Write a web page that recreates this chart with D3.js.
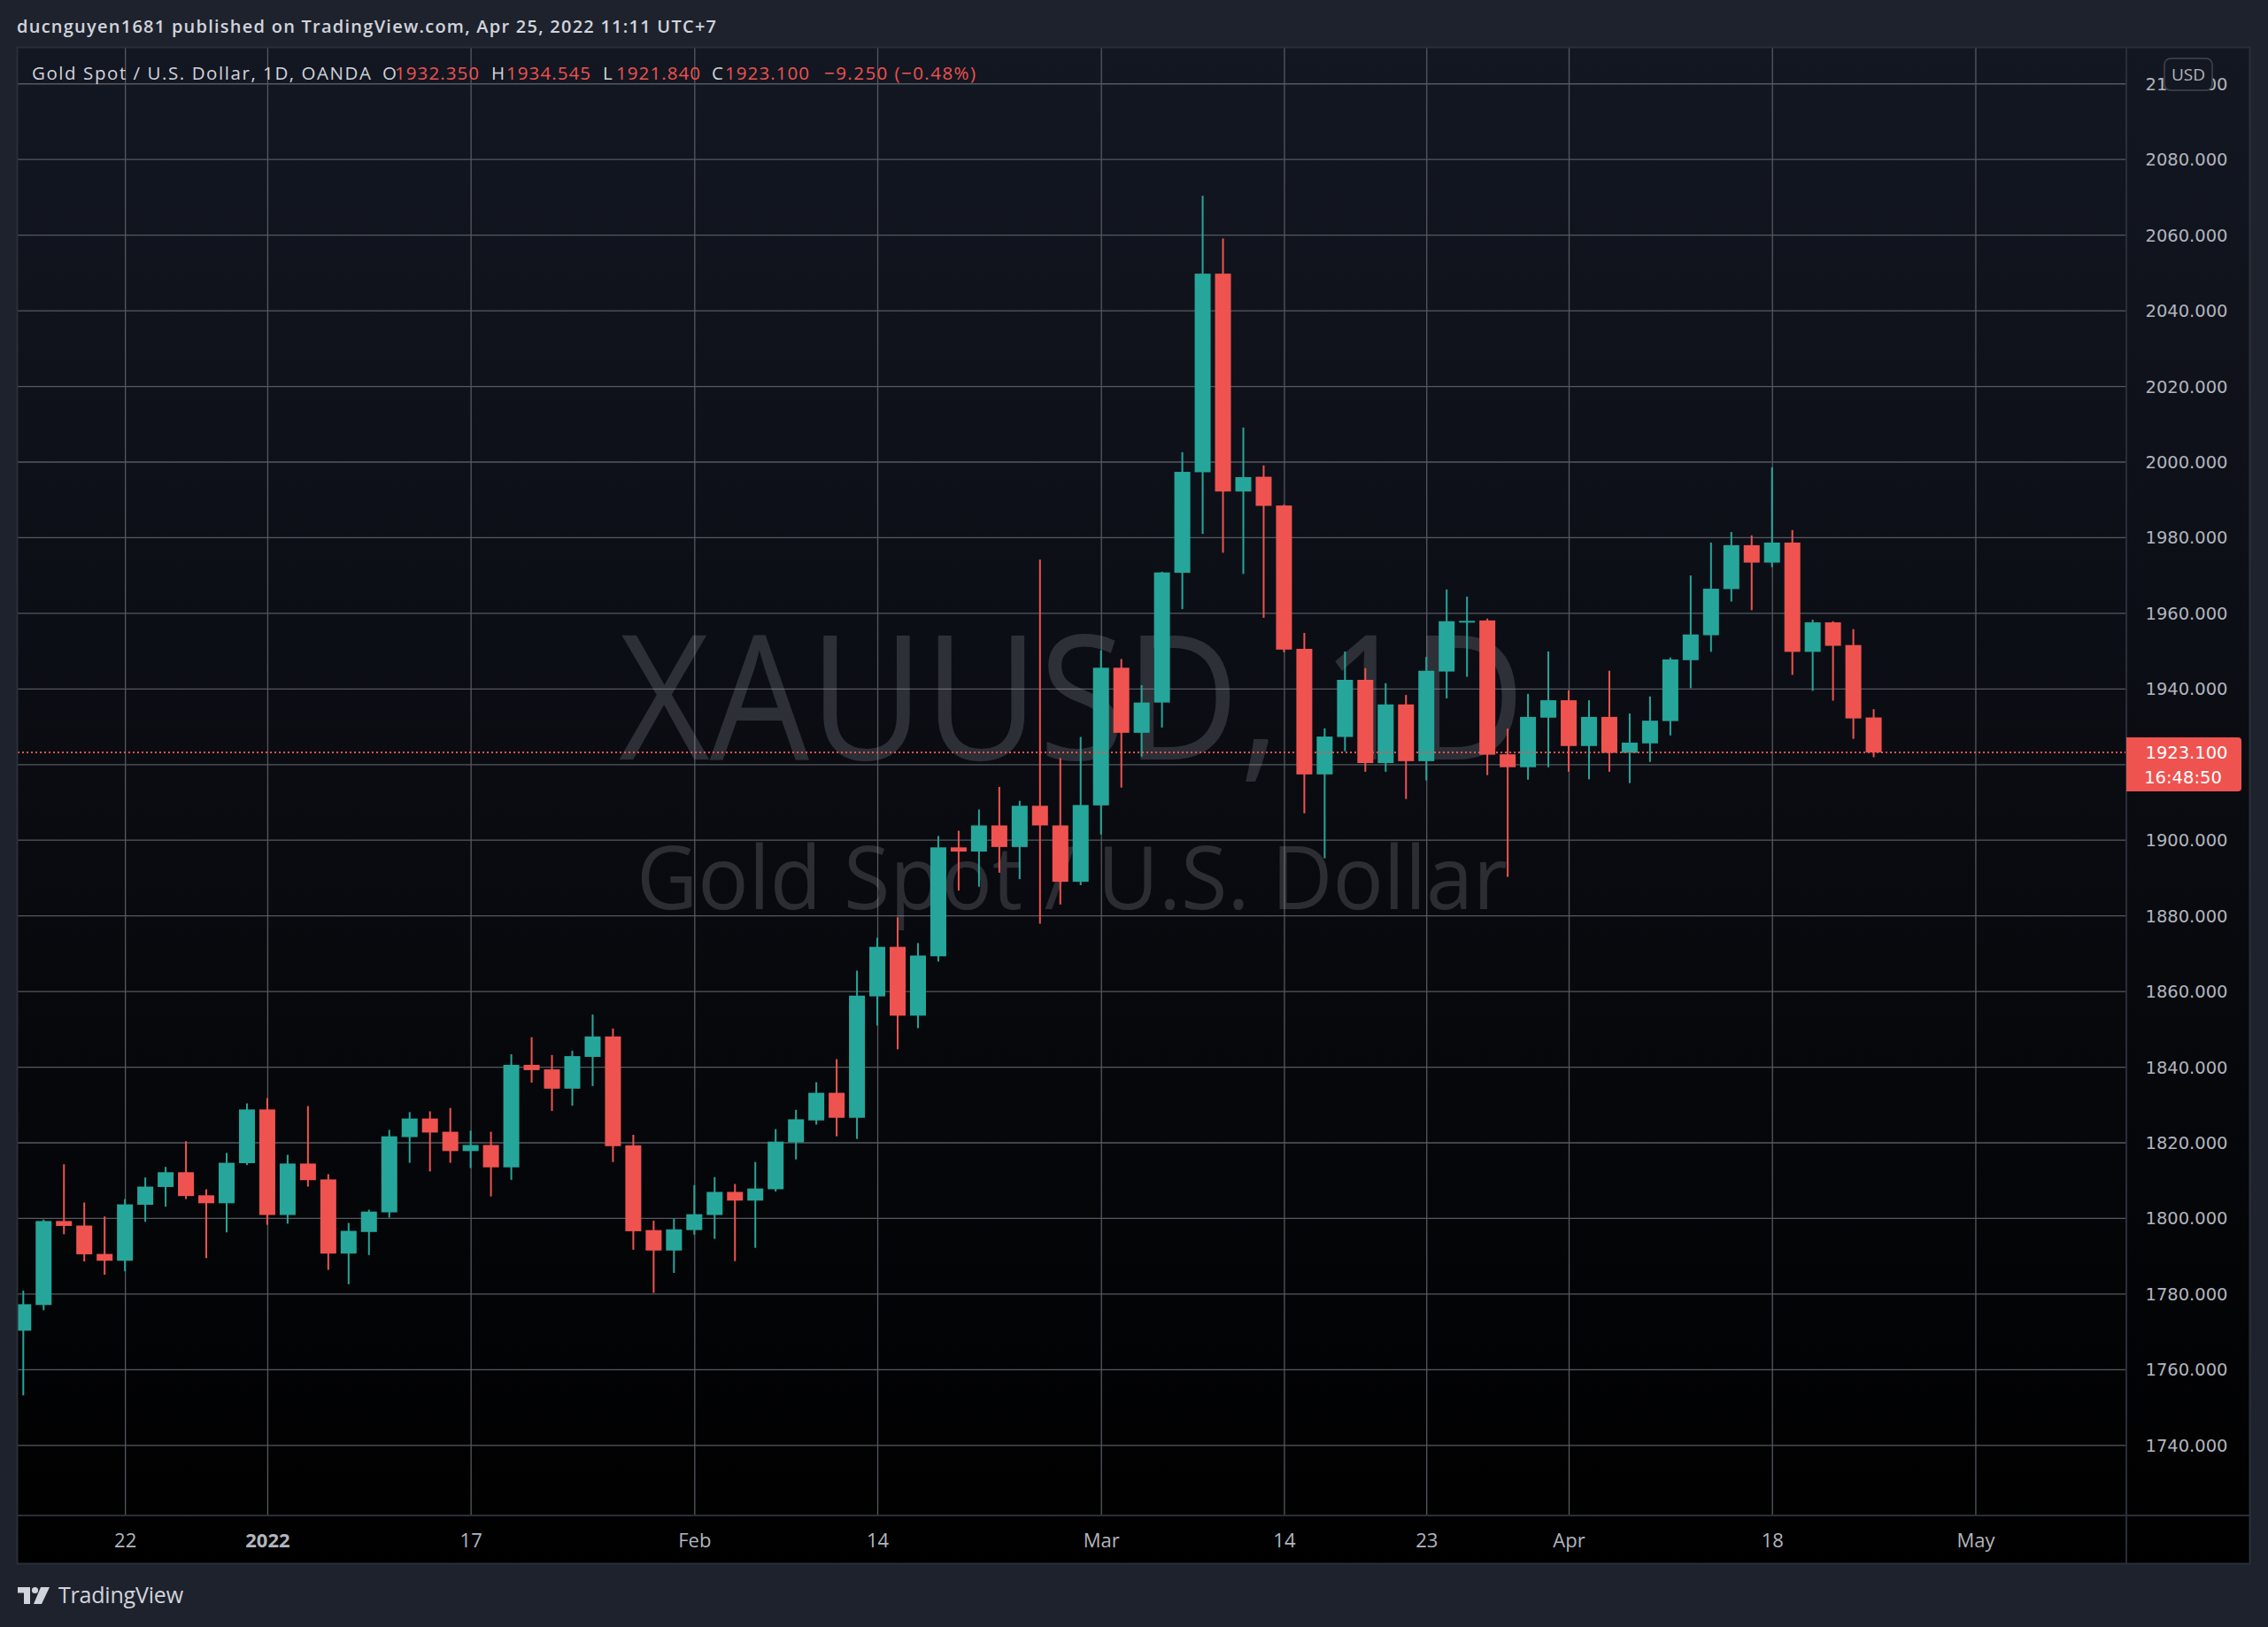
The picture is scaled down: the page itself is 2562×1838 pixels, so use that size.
<!DOCTYPE html>
<html>
<head>
<meta charset="utf-8">
<script src="https://cdn.jsdelivr.net/npm/d3@7"></script>
<style>
html,body{margin:0;padding:0;background:#1e222d;overflow:hidden;}
svg{display:block;}
</style>
</head>
<body>
<svg id="chart" width="2562" height="1838"></svg>
<script>
// ---------------- DATA ----------------
const dates = [
"2021-12-15","2021-12-16","2021-12-17","2021-12-20","2021-12-21","2021-12-22","2021-12-23","2021-12-27","2021-12-28","2021-12-29","2021-12-30","2021-12-31",
"2022-01-03","2022-01-04","2022-01-05","2022-01-06","2022-01-07","2022-01-10","2022-01-11","2022-01-12","2022-01-13","2022-01-14","2022-01-17","2022-01-18","2022-01-19","2022-01-20","2022-01-21","2022-01-24","2022-01-25","2022-01-26","2022-01-27","2022-01-28","2022-01-31",
"2022-02-01","2022-02-02","2022-02-03","2022-02-04","2022-02-07","2022-02-08","2022-02-09","2022-02-10","2022-02-11","2022-02-14","2022-02-15","2022-02-16","2022-02-17","2022-02-18","2022-02-21","2022-02-22","2022-02-23","2022-02-24","2022-02-25","2022-02-28",
"2022-03-01","2022-03-02","2022-03-03","2022-03-04","2022-03-07","2022-03-08","2022-03-09","2022-03-10","2022-03-11","2022-03-14","2022-03-15","2022-03-16","2022-03-17","2022-03-18","2022-03-21","2022-03-22","2022-03-23","2022-03-24","2022-03-25","2022-03-28","2022-03-29","2022-03-30","2022-03-31",
"2022-04-01","2022-04-04","2022-04-05","2022-04-06","2022-04-07","2022-04-08","2022-04-11","2022-04-12","2022-04-13","2022-04-14","2022-04-18","2022-04-19","2022-04-20","2022-04-21","2022-04-22","2022-04-25"
];
const opens = [
1770.2,1777.0,1799.2,1798.0,1790.5,1788.7,1803.5,1808.2,1812.1,1806.0,1803.9,1814.5,
1828.7,1800.8,1814.4,1810.2,1790.6,1796.3,1801.5,1821.4,1826.3,1822.8,1817.7,1819.3,1813.4,1840.5,1839.3,1834.2,1842.6,1848.0,1819.2,1796.8,1791.4,
1796.8,1800.8,1806.9,1804.6,1807.6,1820.0,1825.8,1833.1,1826.5,1858.6,1871.7,1853.5,1869.2,1898.0,1896.9,1903.8,1898.1,1909.0,1903.8,1888.9,
1909.1,1945.5,1928.3,1936.3,1970.6,1997.2,2049.7,1992.1,1996.0,1988.4,1950.5,1917.3,1927.2,1942.3,1920.3,1935.8,1920.8,1944.5,1957.7,1958.0,1922.6,1919.2,1932.3,
1936.9,1924.8,1932.5,1923.0,1925.5,1931.4,1947.5,1954.1,1966.3,1977.9,1973.3,1978.6,1949.7,1957.5,1951.5,1932.35
];
const highs = [
1780.8,1799.6,1814.2,1804.1,1800.4,1805.0,1810.7,1813.5,1820.3,1807.6,1817.2,1830.3,
1831.7,1816.7,1829.6,1811.6,1798.7,1802.2,1823.3,1828.0,1828.2,1829.1,1823.1,1822.8,1843.3,1847.8,1843.1,1844.2,1853.8,1850.1,1822.0,1799.3,1799.8,
1808.7,1810.8,1809.0,1814.8,1823.5,1828.6,1835.9,1842.0,1865.4,1874.1,1879.5,1872.7,1901.0,1902.4,1908.0,1914.0,1910.3,1974.1,1921.6,1927.2,
1950.1,1947.8,1940.9,1970.9,2002.5,2070.3,2059.0,2009.0,1999.0,1988.6,1954.7,1929.5,1949.8,1945.4,1941.4,1938.3,1948.4,1966.2,1964.3,1958.5,1929.4,1938.6,1949.8,
1939.5,1936.9,1944.7,1933.4,1937.9,1948.2,1969.9,1978.6,1981.4,1980.5,1998.5,1981.9,1958.2,1957.8,1955.7,1934.545
];
const lows = [
1753.1,1775.6,1795.7,1788.5,1785.0,1785.9,1799.0,1803.0,1805.0,1789.4,1796.2,1814.0,
1798.2,1798.5,1808.3,1786.3,1782.5,1790.2,1800.1,1814.6,1812.3,1814.6,1813.2,1805.7,1810.1,1835.8,1828.3,1829.7,1834.9,1814.8,1791.6,1780.2,1785.5,
1795.6,1794.5,1788.6,1792.1,1807.0,1815.5,1824.7,1821.6,1820.9,1850.9,1844.6,1850.2,1867.8,1886.6,1887.6,1891.3,1889.6,1877.8,1882.9,1888.0,
1901.4,1913.8,1922.0,1929.7,1961.0,1980.9,1975.9,1970.3,1958.7,1949.6,1907.0,1895.1,1923.4,1918.0,1918.0,1910.8,1915.7,1937.4,1943.1,1917.1,1890.2,1915.9,1919.2,
1918.0,1916.0,1918.0,1915.0,1920.6,1927.6,1940.1,1949.7,1963.0,1960.7,1972.1,1943.6,1939.4,1936.8,1926.7,1921.84
];
const closes = [
1777.2,1799.2,1797.9,1790.4,1788.7,1803.6,1808.3,1812.1,1805.8,1803.9,1814.6,1828.7,
1800.8,1814.4,1810.0,1790.6,1796.6,1801.7,1821.6,1826.3,1822.6,1817.7,1819.3,1813.4,1840.5,1839.1,1834.2,1842.8,1848.0,1819.0,1796.5,1791.4,1797.0,
1801.0,1806.9,1804.6,1807.8,1820.2,1826.1,1833.1,1826.5,1858.8,1871.7,1853.5,1869.4,1898.0,1896.9,1903.8,1898.1,1909.0,1903.8,1888.9,1909.2,
1945.5,1928.3,1936.3,1970.7,1997.3,2049.7,1992.1,1995.9,1988.3,1950.3,1917.3,1927.3,1942.3,1920.3,1935.8,1920.8,1944.7,1957.8,1957.9,1922.5,1919.2,1932.5,1936.9,
1924.8,1932.5,1923.0,1925.7,1931.5,1947.7,1954.3,1966.4,1977.9,1973.3,1978.6,1949.7,1957.5,1951.3,1932.1,1923.1
];
// empty future trading days on the time scale
const futureDates = ["2022-04-26","2022-04-27","2022-04-28","2022-04-29","2022-05-02","2022-05-03","2022-05-04","2022-05-05","2022-05-06","2022-05-09","2022-05-10","2022-05-11"];
const timeTickDates  = ["2021-12-22","2022-01-03","2022-01-17","2022-02-01","2022-02-14","2022-03-01","2022-03-14","2022-03-23","2022-04-01","2022-04-18","2022-05-02"];
const timeTickLabels = ["22","2022","17","Feb","14","Mar","14","23","Apr","18","May"];
const boldTickLabels = ["2022"];
const priceTicks = [1740,1760,1780,1800,1820,1840,1860,1880,1900,1920,1940,1960,1980,2000,2020,2040,2060,2080,2100];
const lastPrice = 1923.100;
const countdown = "16:48:50";
const headerText = "ducnguyen1681 published on TradingView.com, Apr 25, 2022 11:11 UTC+7";
const symbolTitle = "Gold Spot / U.S. Dollar, 1D, OANDA";
const legendKeys = ["O","H","L","C"];
const legendVals = ["1932.350","1934.545","1921.840","1923.100"];
const changeText = "\u22129.250 (\u22120.48%)";
const watermarkMain = "XAUUSD, 1D";
const watermarkSub = "Gold Spot / U.S. Dollar";

// ---------------- LAYOUT ----------------
const W = 2562, H = 1838;
const panel = {x0:19, y0:53, x1:2542, y1:1767};
const plot = {x0:20, y0:53, x1:2402, y1:1712};
const UP = "#26a69a", DOWN = "#ef5350";
const GRID = "#55585f";
const TEXT = "#b2b5be";
const LEG = "#d1d4dc";

const svg = d3.select("#chart");
const defs = svg.append("defs");
const grad = defs.append("linearGradient").attr("id","pg")
  .attr("gradientUnits","userSpaceOnUse").attr("x1",0).attr("y1",panel.y0).attr("x2",0).attr("y2",panel.y1);
grad.append("stop").attr("offset",0).attr("stop-color","#131722");
grad.append("stop").attr("offset",1).attr("stop-color","#000000");
defs.append("clipPath").attr("id","pc").append("rect")
  .attr("x",plot.x0).attr("y",plot.y0).attr("width",plot.x1-plot.x0).attr("height",plot.y1-plot.y0);

svg.append("rect").attr("width",W).attr("height",H).attr("fill","#1e222d");
svg.append("rect").attr("x",panel.x0).attr("y",panel.y0).attr("width",panel.x1-panel.x0).attr("height",panel.y1-panel.y0).attr("fill","url(#pg)");

// scales
const allDates = dates.concat(futureDates);
const step = 22.97, xStart = 26.3;
const x = d3.scalePoint().domain(allDates).range([xStart, xStart + step*(allDates.length-1)]);
const y = d3.scaleLinear().domain([1740, 2080]).range([1632.3, 179.7]);

// grid
const gridG = svg.append("g").attr("clip-path","url(#pc)");
gridG.append("g").attr("transform",`translate(${plot.x0},0)`)
  .call(d3.axisLeft(y).tickValues(priceTicks).tickSize(-(plot.x1-plot.x0)).tickFormat(""))
  .call(g=>g.select(".domain").remove())
  .call(g=>g.selectAll("line").attr("stroke",GRID).attr("stroke-width",1.3));
gridG.append("g").attr("transform",`translate(0,${plot.y1})`)
  .call(d3.axisBottom(x).tickValues(timeTickDates).tickSize(-(plot.y1-plot.y0)).tickFormat(""))
  .call(g=>g.select(".domain").remove())
  .call(g=>g.selectAll("line").attr("stroke",GRID).attr("stroke-width",1.3));

// watermark
const cx = (plot.x0+plot.x1)/2;
svg.append("text").attr("x",cx).attr("y",858).attr("text-anchor","middle")
  .attr("font-family","'Open Sans'").attr("font-size",196).attr("fill","rgba(170,172,180,0.22)")
  .attr("textLength",1024).attr("lengthAdjust","spacingAndGlyphs")
  .text(watermarkMain);
svg.append("text").attr("x",cx).attr("y",1027).attr("text-anchor","middle")
  .attr("font-family","'Open Sans'").attr("font-size",98).attr("fill","rgba(170,172,180,0.22)")
  .attr("textLength",984).attr("lengthAdjust","spacingAndGlyphs")
  .text(watermarkSub);

// candles
const candles = dates.map((d,i)=>({d, o:opens[i], h:highs[i], l:lows[i], c:closes[i]}));
const bw = 18, ww = 2;
const cg = svg.append("g").attr("clip-path","url(#pc)");
const cs = cg.selectAll("g.c").data(candles).join("g").attr("class","c");
cs.append("rect")
  .attr("x",d=>x(d.d)-ww/2).attr("width",ww)
  .attr("y",d=>y(d.h)).attr("height",d=>Math.max(1,y(d.l)-y(d.h)))
  .attr("fill",d=>d.c>=d.o?UP:DOWN);
cs.append("rect")
  .attr("x",d=>x(d.d)-bw/2).attr("width",bw)
  .attr("y",d=>y(Math.max(d.o,d.c))).attr("height",d=>Math.max(2,Math.abs(y(d.o)-y(d.c))))
  .attr("fill",d=>d.c>=d.o?UP:DOWN);

// last price dotted line
svg.append("line").attr("x1",plot.x0).attr("x2",plot.x1).attr("y1",y(lastPrice)).attr("y2",y(lastPrice))
  .attr("stroke",DOWN).attr("stroke-width",2).attr("stroke-dasharray","2,3");

// borders
const BORDER = "#2a2e39";
svg.append("rect").attr("x",panel.x0+0.5).attr("y",panel.y0+0.5).attr("width",panel.x1-panel.x0-1).attr("height",panel.y1-panel.y0-1)
  .attr("fill","none").attr("stroke",BORDER).attr("stroke-width",2);
svg.append("line").attr("x1",plot.x1).attr("x2",plot.x1).attr("y1",panel.y0).attr("y2",panel.y1).attr("stroke",BORDER).attr("stroke-width",2);
svg.append("line").attr("x1",panel.x0).attr("x2",panel.x1).attr("y1",plot.y1).attr("y2",plot.y1).attr("stroke",BORDER).attr("stroke-width",2);

// price axis
const boxTop = y(lastPrice)-17, boxBot = y(lastPrice)+44;
const visibleTicks = priceTicks.filter(p=>{const yy=y(p); return yy>plot.y0+20 && yy<plot.y1-10 && !(yy>boxTop-12 && yy<boxBot+12);});
const pa = svg.append("g").attr("transform",`translate(${plot.x1},0)`)
  .call(d3.axisRight(y).tickValues(visibleTicks).tickSize(0).tickPadding(0).tickFormat(d3.format(".3f")));
pa.select(".domain").remove();
pa.selectAll("text").attr("x",68).attr("text-anchor","middle").attr("dy","0.36em")
  .attr("font-family","'DejaVu Sans'").attr("font-size",19.5).attr("fill",TEXT);

// USD badge (covers the middle of the top label, as in the original)
svg.append("rect").attr("x",2445).attr("y",66).attr("width",54).attr("height",36).attr("rx",7)
  .attr("fill","#131722").attr("stroke","#434651").attr("stroke-width",1.5);
svg.append("text").attr("x",2472).attr("y",91).attr("text-anchor","middle")
  .attr("font-family","'Open Sans'").attr("font-size",19).attr("fill",TEXT).text("USD");

// last price label
const yl = y(lastPrice);
svg.append("path")
  .attr("d",`M${plot.x1},${yl-17} H2528 a4,4 0 0 1 4,4 V${yl+40} a4,4 0 0 1 -4,4 H${plot.x1} Z`)
  .attr("fill",DOWN);
svg.append("text").attr("x",2470).attr("y",yl).attr("dy","0.36em").attr("text-anchor","middle")
  .attr("font-family","'DejaVu Sans'").attr("font-size",19.5).attr("fill","#ffffff").text(d3.format(".3f")(lastPrice));
svg.append("text").attr("x",2466).attr("y",yl+28).attr("dy","0.36em").attr("text-anchor","middle")
  .attr("font-family","'DejaVu Sans'").attr("font-size",19.5).attr("fill","#ffffff").text(countdown);

// time axis
const ta = svg.append("g").attr("transform",`translate(0,${plot.y1})`)
  .call(d3.axisBottom(x).tickValues(timeTickDates).tickSize(0).tickPadding(0)
    .tickFormat((d,i)=>timeTickLabels[i]));
ta.select(".domain").remove();
ta.selectAll("text").attr("y",28).attr("dy","0.36em")
  .attr("font-family","'Open Sans'").attr("font-size",22).attr("fill",TEXT)
  .attr("font-weight",(d,i)=>boldTickLabels.includes(timeTickLabels[i])?700:400);

// header
svg.append("text").attr("x",19).attr("y",37).attr("font-family","'Open Sans'").attr("font-size",20)
  .attr("font-weight",600)
  .attr("fill",LEG).attr("textLength",790).attr("lengthAdjust","spacing").text(headerText);

// legend
const legY = 90;
const lf = (xx, t, col, len) => {
  const el = svg.append("text").attr("x",xx).attr("y",legY).attr("font-family","'Open Sans'").attr("font-size",20.5).attr("fill",col).text(t);
  if (len) el.attr("textLength",len).attr("lengthAdjust","spacing");
};
lf(36, symbolTitle, LEG, 383);
const keyX = [432,555,681,804], valX = [446,572,696,819];
legendKeys.forEach((k,i)=>{ lf(keyX[i], k, LEG); lf(valX[i], legendVals[i], DOWN, 95); });
lf(931, changeText, DOWN, 171);

// footer logo
const fg = svg.append("g").attr("fill","#d1d4dc");
fg.append("path").attr("d","M20,1793 H34 V1812 H27 V1799.5 H20 Z");
fg.append("circle").attr("cx",39.5).attr("cy",1796.5).attr("r",3.6);
fg.append("path").attr("d","M46,1793 H56 L47,1812 H38 Z");
svg.append("text").attr("x",66).attr("y",1811).attr("font-family","'Open Sans'").attr("font-size",25)
  .attr("fill","#d1d4dc").attr("textLength",141).attr("lengthAdjust","spacing").text("TradingView");
</script>
</body>
</html>
